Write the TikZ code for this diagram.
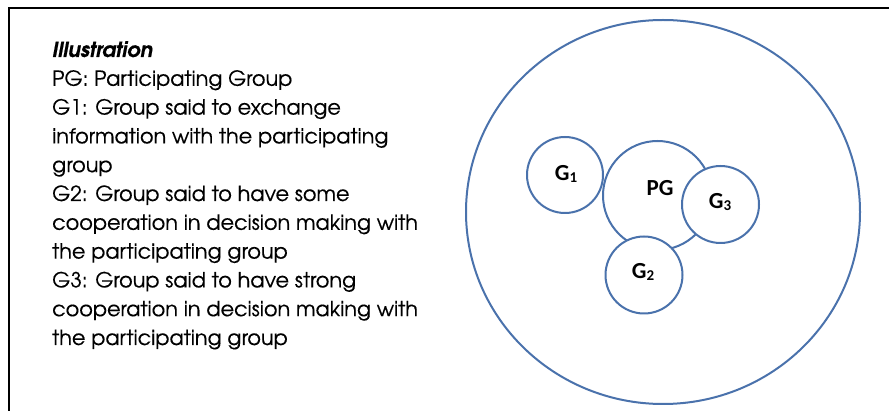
\documentclass[tikz,border=0pt]{standalone}
\usepackage{fontspec}
\setmainfont{TeX Gyre Adventor}[FakeBold=0.35]
\newfontfamily\lblfont{Carlito}
\usetikzlibrary{shapes.geometric}
\definecolor{cblue}{RGB}{74,114,172}
\begin{document}
\begin{tikzpicture}[x=1pt,y=-1pt,
  ring/.style={draw=cblue,line width=2pt,fill=white,inner sep=0pt},
  legend/.style={anchor=base west,inner sep=0pt,font=\fontsize{20.8}{24}\selectfont},
  lbl/.style={font=\lblfont\bfseries\fontsize{23}{26}\selectfont,inner sep=0pt},
  frame/.style={line width=2.2pt,black}]
\useasboundingbox (0,0) rectangle (889,411);
\coordinate (bl) at (9,412);
\coordinate (tl) at (9,8);
\coordinate (tr) at (890,8);
\draw[frame] (bl) -- (tl) -- (tr);
\foreach \t [count=\i] in {
  {\bfseries\itshape Illustration},
  {PG: Participating Group},
  {G1: Group said to exchange},
  {information with the participating},
  {group},
  {G2: Group said to have some},
  {cooperation in decision making with},
  {the participating group},
  {G3: Group said to have strong},
  {cooperation in decision making with},
  {the participating group}}
  \node[legend] (l\i) at (52,{57+28.8*(\i-1)}) {\t};
\node[ring,ellipse,minimum width=394pt,minimum height=384pt] (outer) at (663,212) {};
\node[ring,circle,minimum size=109pt] (pg) at (657.5,195.5) {};
\node[ring,circle,minimum size=76pt] (g1) at (565,175) {};
\node[ring,circle,minimum size=77pt] (g2) at (644,275) {};
\node[ring,circle,minimum size=77pt] (g3) at (720.5,204.5) {};
\node[lbl] (tpg) at (660,188) {PG};
\node[lbl] (tg1) at (566,174) {G\raisebox{-0.12em}{\fontsize{15}{16}\selectfont 1}};
\node[lbl] (tg2) at (643,272) {G\raisebox{-0.12em}{\fontsize{15}{16}\selectfont 2}};
\node[lbl] (tg3) at (720,202) {G\raisebox{-0.12em}{\fontsize{15}{16}\selectfont 3}};
\end{tikzpicture}
\end{document}
